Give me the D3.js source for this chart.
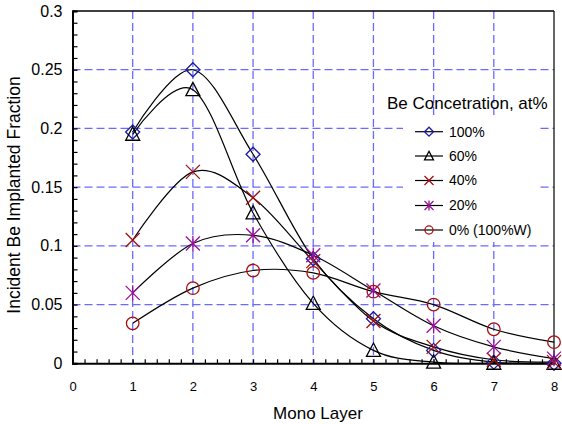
<!DOCTYPE html>
<html><head><meta charset="utf-8">
<script src="https://cdn.jsdelivr.net/npm/d3@7"></script>
<style>body{margin:0;background:#fff}svg{display:block;font-family:"Liberation Sans",Arial,sans-serif}</style>
</head><body><svg id="c" width="562" height="424"></svg>
<script>
const layers = [1,2,3,4,5,6,7,8];
const s100 = [0.197,0.250,0.178,0.089,0.038,0.011,0.001,0.000];
const s60  = [0.195,0.233,0.128,0.051,0.011,0.001,0.000,0.000];
const s40  = [0.105,0.163,0.141,0.087,0.036,0.014,0.003,0.001];
const s20  = [0.060,0.102,0.109,0.092,0.062,0.032,0.014,0.004];
const s0   = [0.034,0.064,0.079,0.077,0.061,0.050,0.029,0.018];
const seriesNames = ["100%","60%","40%","20%","0% (100%W)"];
const xTicks = [0,1,2,3,4,5,6,7,8];
const yTicks = [0,0.05,0.1,0.15,0.2,0.25,0.3];
const yTickLabels = ["0","0.05","0.1","0.15","0.2","0.25","0.3"];

const svg = d3.select("#c");
const L=72.5,R=554,T=11,B=363.3;
const x = d3.scaleLinear([0,8],[L,R]);
const y = d3.scaleLinear([0,0.3],[B,T]);

const series = [
  {name:seriesNames[0], vals:s100, color:"#1a1aa0", sym:"diamond"},
  {name:seriesNames[1], vals:s60,  color:"#000000", sym:"triangle"},
  {name:seriesNames[2], vals:s40,  color:"#a01010", sym:"x"},
  {name:seriesNames[3], vals:s20,  color:"#9a109a", sym:"star"},
  {name:seriesNames[4], vals:s0,   color:"#a81010", sym:"circle"}
];

// grid
const grid = svg.append("g").attr("stroke","#6a6aff").attr("stroke-width",1.3).attr("stroke-dasharray","8,4");
xTicks.filter(d=>d>0&&d<8).forEach(d=>grid.append("line").attr("x1",x(d)).attr("x2",x(d)).attr("y1",T).attr("y2",B));
yTicks.filter(d=>d>0&&d<0.3).forEach(d=>grid.append("line").attr("x1",L).attr("x2",R).attr("y1",y(d)).attr("y2",y(d)));

// legend background
svg.append("rect").attr("x",403).attr("y",118).attr("width",137).attr("height",124).attr("fill","#fff");

// axes
const xMinor = d3.range(0,8.001,0.2);
const yMinor = d3.range(0,0.3001,0.01);
svg.append("g").attr("transform",`translate(0,${B})`)
  .call(d3.axisBottom(x).tickValues(xMinor).tickSize(-4).tickFormat(""))
  .call(g=>{g.select(".domain").attr("stroke-width",2);g.selectAll("line").attr("stroke-width",1.2);});
svg.append("g").attr("transform",`translate(${L},0)`)
  .call(d3.axisLeft(y).tickValues(yMinor).tickSize(-5).tickFormat(""))
  .call(g=>{g.select(".domain").attr("stroke-width",2);g.selectAll("line").attr("stroke-width",1.2);});
// labels via axes
svg.append("g").attr("transform",`translate(0,${B})`)
  .call(d3.axisBottom(x).tickValues(xTicks).tickSize(0).tickPadding(18).tickFormat(d3.format("d")))
  .call(g=>{g.select(".domain").remove();g.selectAll("text").attr("font-size",13).attr("fill","#000").attr("font-family","Liberation Sans, Arial");});
svg.append("g").attr("transform",`translate(${L},0)`)
  .call(d3.axisLeft(y).tickValues(yTicks).tickSize(0).tickPadding(10).tickFormat((d,i)=>yTickLabels[i]))
  .call(g=>{g.select(".domain").remove();g.selectAll("text").attr("font-size",16).attr("fill","#000").attr("font-family","Liberation Sans, Arial");});
// top/right border
svg.append("line").attr("x1",L).attr("x2",R).attr("y1",T).attr("y2",T).attr("stroke","#000").attr("stroke-width",1.6);
svg.append("line").attr("x1",R).attr("x2",R).attr("y1",T).attr("y2",B).attr("stroke","#000").attr("stroke-width",1.2);

// curves
const line = d3.line().x((d,i)=>x(layers[i])).y(d=>y(d)).curve(d3.curveCardinal.tension(0));
series.forEach(s=>{
  svg.append("path").attr("d",line(s.vals)).attr("fill","none").attr("stroke","#000").attr("stroke-width",1.2);
});

function marker(g,sym,cx,cy,r,color){
  const p = g.append("path").attr("fill","none").attr("stroke",color).attr("stroke-width",1.3);
  let d;
  if(sym==="diamond") d=`M${cx},${cy-r}L${cx+r},${cy}L${cx},${cy+r}L${cx-r},${cy}Z`;
  else if(sym==="triangle") d=`M${cx},${cy-r*1.05}L${cx+r},${cy+r*0.85}L${cx-r},${cy+r*0.85}Z`;
  else if(sym==="x") d=`M${cx-r},${cy-r}L${cx+r},${cy+r}M${cx-r},${cy+r}L${cx+r},${cy-r}`;
  else if(sym==="star") d=`M${cx-r},${cy-r}L${cx+r},${cy+r}M${cx-r},${cy+r}L${cx+r},${cy-r}M${cx},${cy-r*1.1}L${cx},${cy+r*1.1}`;
  else { g.append("circle").attr("cx",cx).attr("cy",cy).attr("r",r*0.9).attr("fill","none").attr("stroke",color).attr("stroke-width",1.3); p.remove(); return; }
  p.attr("d",d);
}
series.forEach(s=>{
  const g = svg.append("g");
  s.vals.forEach((v,i)=>marker(g,s.sym,x(layers[i]),y(v),7,s.color));
});

// legend
svg.append("text").attr("x",387).attr("y",109).attr("font-size",17).text("Be Concetration, at%");
const rowsY=[131.7,156,180.5,205.5,230];
series.forEach((s,i)=>{
  const g=svg.append("g");
  g.append("line").attr("x1",415).attr("x2",443).attr("y1",rowsY[i]).attr("y2",rowsY[i]).attr("stroke","#000").attr("stroke-width",1.2);
  marker(g,s.sym,429,rowsY[i],4.5,s.color);
  g.append("text").attr("x",449).attr("y",rowsY[i]).attr("dy","0.35em").attr("font-size",14).text(s.name);
});

// axis titles
svg.append("text").attr("x",318).attr("y",419).attr("text-anchor","middle").attr("font-size",17).text("Mono Layer");
svg.append("text").attr("transform","translate(20,195) rotate(-90)").attr("text-anchor","middle").attr("font-size",17.5).text("Incident Be Implanted Fraction");
</script></body></html>
